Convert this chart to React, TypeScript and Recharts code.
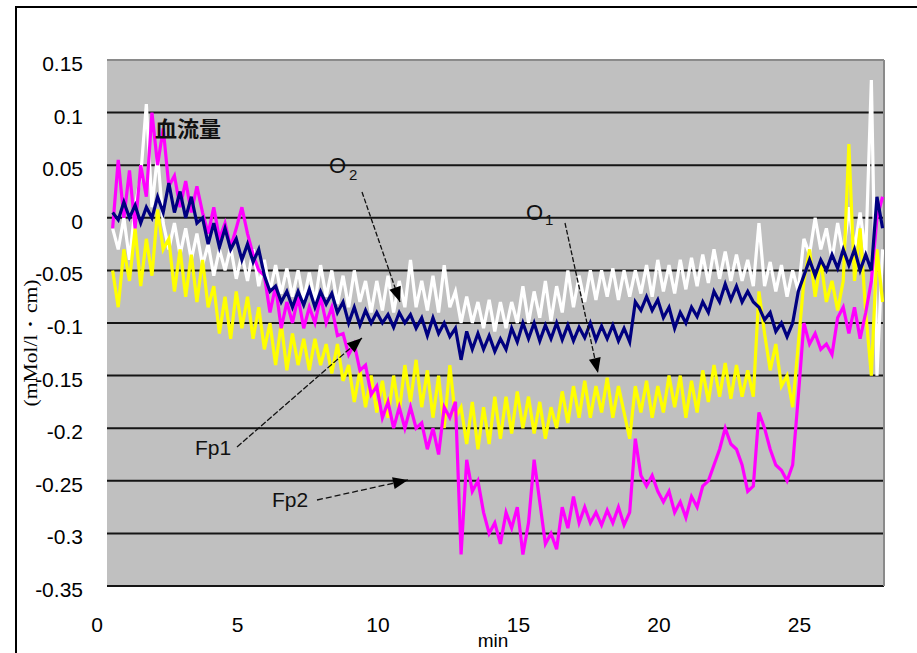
import React from 'react';
import { LineChart, Line, XAxis, YAxis, CartesianGrid, ReferenceLine } from 'recharts';

// sample times (min)
const TIME = [
  0.2, 0.4, 0.6, 0.8, 1.0, 1.2, 1.4, 1.6, 1.8, 2.0,
  2.2, 2.4, 2.6, 2.8, 3.0, 3.2, 3.4, 3.6, 3.8, 4.0,
  4.2, 4.4, 4.6, 4.8, 5.0, 5.2, 5.4, 5.6, 5.8, 6.0,
  6.2, 6.4, 6.6, 6.8, 7.0, 7.2, 7.4, 7.6, 7.8, 8.0,
  8.2, 8.4, 8.6, 8.8, 9.0, 9.2, 9.4, 9.6, 9.8, 10.0,
  10.2, 10.4, 10.6, 10.8, 11.0, 11.2, 11.4, 11.6, 11.8, 12.0,
  12.2, 12.4, 12.6, 12.8, 13.0, 13.2, 13.4, 13.6, 13.8, 14.0,
  14.2, 14.4, 14.6, 14.8, 15.0, 15.2, 15.4, 15.6, 15.8, 16.0,
  16.2, 16.4, 16.6, 16.8, 17.0, 17.2, 17.4, 17.6, 17.8, 18.0,
  18.2, 18.4, 18.6, 18.8, 19.0, 19.2, 19.4, 19.6, 19.8, 20.0,
  20.2, 20.4, 20.6, 20.8, 21.0, 21.2, 21.4, 21.6, 21.8, 22.0,
  22.2, 22.4, 22.6, 22.8, 23.0, 23.2, 23.4, 23.6, 23.8, 24.0,
  24.2, 24.4, 24.6, 24.8, 25.0, 25.2, 25.4, 25.6, 25.8, 26.0,
  26.2, 26.4, 26.6, 26.8, 27.0, 27.2, 27.4, 27.6,
];

const WHITE = [
  -0.01, -0.03, 0.0, -0.04, 0.01, 0.04, 0.108, 0.01, 0.06, -0.005,
  -0.03, -0.005, -0.035, -0.01, -0.04, -0.015, -0.045, -0.025, -0.055, -0.03,
  -0.05, -0.028, -0.058, -0.035, -0.06, -0.03, -0.065, -0.04, -0.07, -0.045,
  -0.072, -0.048, -0.075, -0.05, -0.078, -0.052, -0.08, -0.045, -0.075, -0.05,
  -0.082, -0.055, -0.085, -0.05, -0.08, -0.06, -0.09, -0.06, -0.088, -0.055,
  -0.09, -0.06, -0.085, -0.04, -0.085, -0.06, -0.088, -0.055, -0.09, -0.045,
  -0.085, -0.07, -0.1, -0.075, -0.1, -0.08, -0.105, -0.078, -0.108, -0.08,
  -0.105, -0.08, -0.1, -0.065, -0.1, -0.07, -0.095, -0.06, -0.098, -0.065,
  -0.09, -0.05, -0.085, -0.055, -0.08, -0.05, -0.078, -0.05, -0.075, -0.048,
  -0.078, -0.05, -0.075, -0.05, -0.072, -0.045, -0.075, -0.04, -0.07, -0.045,
  -0.072, -0.04, -0.068, -0.038, -0.065, -0.035, -0.062, -0.03, -0.058, -0.032,
  -0.06, -0.035, -0.06, -0.04, -0.065, -0.005, -0.065, -0.042, -0.07, -0.045,
  -0.075, -0.05, -0.07, -0.02, -0.035, 0.0, -0.03, -0.01, -0.04, -0.005,
  -0.035, 0.01, -0.03, 0.005, -0.035, 0.131, -0.15, -0.03,
];

const NAVY = [
  0.005, -0.002, 0.015, 0.0, 0.012, -0.005, 0.01, 0.0, 0.02, 0.005,
  0.033, 0.005, 0.025, 0.0, 0.02, -0.005, 0.0, -0.025, -0.005, -0.028,
  -0.01, -0.03, -0.02, -0.04, -0.025, -0.042, -0.03, -0.055, -0.07, -0.065,
  -0.08, -0.07, -0.085, -0.07, -0.083, -0.068, -0.085, -0.07, -0.082, -0.072,
  -0.09, -0.08, -0.1, -0.085, -0.102, -0.088, -0.1, -0.09, -0.1, -0.092,
  -0.104, -0.09, -0.1, -0.092, -0.105, -0.095, -0.112, -0.095, -0.11, -0.1,
  -0.113, -0.105, -0.135, -0.108, -0.125, -0.11, -0.125, -0.112, -0.127, -0.115,
  -0.125, -0.105, -0.118, -0.1, -0.115, -0.1, -0.117, -0.102, -0.115, -0.1,
  -0.116, -0.102, -0.117, -0.104, -0.114, -0.1, -0.116, -0.103, -0.115, -0.102,
  -0.117, -0.105, -0.118, -0.08, -0.088, -0.075, -0.088, -0.078, -0.095, -0.085,
  -0.105, -0.09, -0.1, -0.085, -0.094, -0.08, -0.09, -0.07, -0.08, -0.063,
  -0.078, -0.065, -0.08, -0.07, -0.08, -0.085, -0.097, -0.09, -0.108, -0.1,
  -0.113, -0.1, -0.07, -0.055, -0.04, -0.055, -0.04, -0.05, -0.035, -0.048,
  -0.03, -0.045, -0.03, -0.05, -0.035, -0.05, 0.02, -0.01,
];

const YELLOW = [
  -0.05, -0.085, -0.03, -0.06, -0.01, -0.065, -0.02, -0.055, 0.008, -0.03,
  -0.02, -0.07, -0.03, -0.075, -0.035, -0.08, -0.04, -0.085, -0.065, -0.11,
  -0.075, -0.115, -0.07, -0.105, -0.075, -0.115, -0.085, -0.125, -0.1, -0.14,
  -0.1, -0.145, -0.11, -0.14, -0.115, -0.145, -0.115, -0.14, -0.12, -0.148,
  -0.12, -0.155, -0.14, -0.175, -0.145, -0.18, -0.15, -0.185, -0.155, -0.19,
  -0.15, -0.185, -0.14, -0.175, -0.135, -0.18, -0.145, -0.19, -0.15, -0.2,
  -0.14, -0.19, -0.18, -0.215, -0.175, -0.22, -0.18, -0.215, -0.17, -0.21,
  -0.17, -0.205, -0.165, -0.2, -0.17, -0.205, -0.175, -0.21, -0.18, -0.2,
  -0.165, -0.195, -0.16, -0.19, -0.155, -0.19, -0.16, -0.185, -0.152, -0.19,
  -0.16, -0.185, -0.21, -0.16, -0.185, -0.155, -0.19, -0.16, -0.185, -0.15,
  -0.18, -0.15, -0.19, -0.155, -0.185, -0.145, -0.175, -0.14, -0.17, -0.138,
  -0.172, -0.14, -0.17, -0.145, -0.17, -0.07, -0.11, -0.145, -0.12, -0.16,
  -0.15, -0.18, -0.12, -0.06, -0.03, -0.075, -0.04, -0.08, -0.06, -0.088,
  -0.06, 0.07, -0.06, -0.01, -0.09, -0.15, -0.03, -0.08,
];

const MAGENTA = [
  -0.01, 0.055, 0.0, 0.045, -0.01, 0.05, 0.02, 0.1, 0.05, 0.085,
  0.03, 0.04, 0.01, 0.035, 0.005, 0.03, 0.005, -0.015, 0.01, -0.02,
  -0.005, -0.028, -0.01, 0.01, -0.015, -0.035, -0.05, -0.055, -0.09, -0.065,
  -0.105, -0.08, -0.1, -0.075, -0.105, -0.085, -0.1, -0.075, -0.1, -0.085,
  -0.112, -0.11, -0.13, -0.12, -0.145, -0.14, -0.168, -0.16, -0.19, -0.175,
  -0.2, -0.18, -0.2, -0.18, -0.2, -0.195, -0.22, -0.2, -0.225, -0.18,
  -0.19, -0.175, -0.32, -0.23, -0.26, -0.25, -0.28, -0.3, -0.29, -0.31,
  -0.28, -0.295, -0.275, -0.32, -0.29, -0.23, -0.27, -0.31, -0.3, -0.315,
  -0.275, -0.295, -0.265, -0.29, -0.275, -0.29, -0.28, -0.292, -0.278, -0.29,
  -0.275, -0.292, -0.28, -0.21, -0.245, -0.255, -0.245, -0.26, -0.27, -0.26,
  -0.28, -0.27, -0.285, -0.265, -0.275, -0.255, -0.25, -0.235, -0.22, -0.2,
  -0.215, -0.22, -0.235, -0.26, -0.255, -0.185, -0.2, -0.22, -0.235, -0.24,
  -0.25, -0.235, -0.17, -0.1, -0.12, -0.11, -0.125, -0.12, -0.13, -0.095,
  -0.085, -0.11, -0.085, -0.115, -0.09, -0.06, 0.0, 0.02,
];

const X_TICKS = [0, 5, 10, 15, 20, 25];
const X_TICK_LABELS = ['0', '5', '10', '15', '20', '25'];
const Y_TICKS = [-0.35, -0.3, -0.25, -0.2, -0.15, -0.1, -0.05, 0, 0.05, 0.1, 0.15];
const Y_TICK_LABELS = ['-0.35', '-0.3', '-0.25', '-0.2', '-0.15', '-0.1', '-0.05', '0', '0.05', '0.1', '0.15'];
const X_DOMAIN: [number, number] = [0, 27.65];
const Y_DOMAIN: [number, number] = [-0.35, 0.15];

const rows = TIME.map((t, i) => ({
  t,
  white: WHITE[i],
  navy: NAVY[i],
  yellow: YELLOW[i],
  magenta: MAGENTA[i],
}));

const FONT = 'Liberation Sans, Arial, sans-serif';

const YTick = (props: any) => {
  const { x, y, payload } = props;
  const idx = Y_TICKS.findIndex((v) => Math.abs(v - payload.value) < 1e-9);
  return (
    <text x={x} y={y + 11} textAnchor="end" fontSize={21} fontFamily={FONT} fill="#000">
      {idx >= 0 ? Y_TICK_LABELS[idx] : String(payload.value)}
    </text>
  );
};

const XTick = (props: any) => {
  const { x, y, payload } = props;
  const idx = X_TICKS.findIndex((v) => Math.abs(v - payload.value) < 1e-9);
  return (
    <text x={x - 10} y={y} textAnchor="middle" fontSize={21} fontFamily={FONT} fill="#000">
      {idx >= 0 ? X_TICK_LABELS[idx] : String(payload.value)}
    </text>
  );
};

function arrowHead(x1: number, y1: number, x2: number, y2: number, len = 15, half = 6) {
  const dx = x2 - x1;
  const dy = y2 - y1;
  const d = Math.sqrt(dx * dx + dy * dy);
  const ux = dx / d;
  const uy = dy / d;
  const bx = x2 - ux * len;
  const by = y2 - uy * len;
  const px = -uy * half;
  const py = ux * half;
  return `${x2},${y2} ${bx + px},${by + py} ${bx - px},${by - py}`;
}

const ARROWS = [
  { x1: 362, y1: 192, x2: 400, y2: 302, dash: '5 2' },
  { x1: 565, y1: 223, x2: 598, y2: 373, dash: '5 2' },
  { x1: 237, y1: 447, x2: 362, y2: 338, dash: '6 2' },
  { x1: 317, y1: 500, x2: 408, y2: 480, dash: '6 3' },
];

const SW = 3.2;

export default function App() {
  return (
    <div style={{ position: 'absolute', left: 0, top: 0, width: 917, height: 653, background: '#fff' }}>
      <LineChart
        width={917}
        height={653}
        data={rows}
        margin={{ top: 60, right: 33, bottom: 37, left: 17 }}
      >
        <CartesianGrid
          vertical={false}
          stroke="#151515"
          strokeWidth={2}
          fill="#c0c0c0"
          fillOpacity={1}
        />
        <XAxis
          type="number"
          dataKey="t"
          domain={X_DOMAIN}
          ticks={X_TICKS}
          allowDataOverflow
          axisLine={false}
          tickLine={false}
          tickSize={0}
          tickMargin={46}
          height={30}
          tick={<XTick />}
          interval={0}
        />
        <YAxis
          type="number"
          domain={Y_DOMAIN}
          ticks={Y_TICKS}
          allowDataOverflow
          axisLine={false}
          tickLine={false}
          tickSize={0}
          tickMargin={24}
          width={90}
          tick={<YTick />}
          interval={0}
        />
        <ReferenceLine y={0.15} stroke="#8a8a8a" strokeWidth={2} />
        <ReferenceLine x={27.65} stroke="#8a8a8a" strokeWidth={2} />
        <Line type="linear" dataKey="white" stroke="#ffffff" strokeWidth={SW} strokeLinejoin="miter" dot={false} isAnimationActive={false} />
        <Line type="linear" dataKey="yellow" stroke="#ffff00" strokeWidth={SW} strokeLinejoin="miter" dot={false} isAnimationActive={false} />
        <Line type="linear" dataKey="magenta" stroke="#ff00ff" strokeWidth={SW} strokeLinejoin="miter" dot={false} isAnimationActive={false} />
        <Line type="linear" dataKey="navy" stroke="#000080" strokeWidth={SW} strokeLinejoin="miter" dot={false} isAnimationActive={false} />
      </LineChart>
      <svg
        width={917}
        height={653}
        style={{ position: 'absolute', left: 0, top: 0, pointerEvents: 'none' }}
      >
        <line x1={16} y1={7} x2={917} y2={7} stroke="#000" strokeWidth={2} />
        <line x1={16} y1={6} x2={16} y2={653} stroke="#000" strokeWidth={2} />
        <text
          x={0}
          y={0}
          transform="translate(37 343) rotate(-90)"
          textAnchor="middle"
          fontSize={19}
          fontFamily="Liberation Serif, serif"
          textLength={127}
          lengthAdjust="spacingAndGlyphs"
          fill="#000"
        >
          (mMol/l・cm)
        </text>
        <text x={493} y={647} textAnchor="middle" fontSize={19} fontFamily={FONT} fill="#000">
          min
        </text>
        <text x={155} y={137} fontSize={22} fontWeight="bold" fontFamily="Noto Sans CJK JP, sans-serif" fill="#111">
          血流量
        </text>
        <text x={329} y={173} fontSize={22} fontFamily={FONT} fill="#111">O</text>
        <text x={349} y={180} fontSize={15} fontFamily={FONT} fill="#111">2</text>
        <text x={526} y={220} fontSize={22} fontFamily={FONT} fill="#111">O</text>
        <text x={545} y={225} fontSize={15} fontFamily={FONT} fill="#111">1</text>
        <text x={195} y={455} fontSize={21} fontFamily={FONT} fill="#111">Fp1</text>
        <text x={272} y={507} fontSize={21} fontFamily={FONT} fill="#111">Fp2</text>
        {ARROWS.map((a, i) => (
          <g key={i}>
            <line x1={a.x1} y1={a.y1} x2={a.x2} y2={a.y2} stroke="#111" strokeWidth={1.3} strokeDasharray={a.dash} />
            <polygon points={arrowHead(a.x1, a.y1, a.x2, a.y2)} fill="#000" />
          </g>
        ))}
      </svg>
    </div>
  );
}
